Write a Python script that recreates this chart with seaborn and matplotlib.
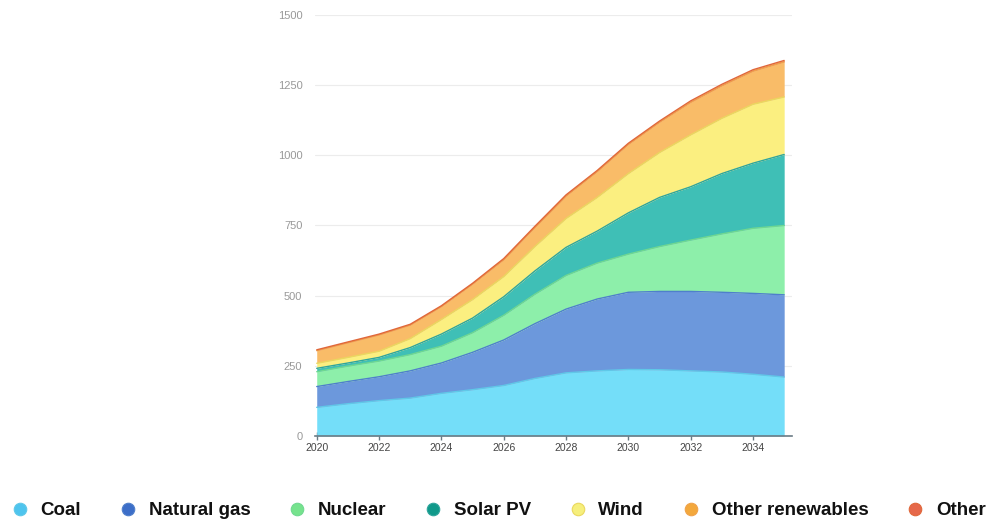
import numpy as np
import pandas as pd
import seaborn as sns
import matplotlib.pyplot as plt
from matplotlib.lines import Line2D

years = list(range(2020, 2036))
coal = [102, 115, 126, 135, 152, 165, 180, 205, 225, 232, 237, 236, 232, 228, 220, 210]
natural_gas = [74, 79, 85, 97, 108, 133, 162, 195, 227, 256, 275, 279, 283, 284, 288, 293]
nuclear = [53, 55, 56, 58, 60, 70, 88, 105, 120, 128, 136, 160, 183, 208, 232, 247]
solar_pv = [12, 11, 13, 25, 43, 52, 66, 83, 100, 114, 147, 175, 190, 215, 232, 253]
wind = [18, 20, 22, 32, 52, 66, 72, 87, 103, 120, 140, 160, 185, 197, 210, 205]
other_renewables = [45, 52, 58, 48, 46, 55, 60, 68, 80, 92, 104, 108, 116, 116, 118, 125]
other = [3, 3, 3, 3, 3, 3, 4, 4, 4, 4, 4, 4, 5, 5, 5, 5]

labels = ['Coal', 'Natural gas', 'Nuclear', 'Solar PV', 'Wind', 'Other renewables', 'Other']
fill_colors = ['#74DEF9', '#6C98DC', '#8DEFAA', '#3FBFB6', '#FBEF80', '#F9BC68', '#EC7A4E']
edge_colors = ['#5FC8E8', '#4F7FCB', '#6FD890', '#2FA59C', '#EAD85E', '#F0A24A', '#E0673A']
marker_colors = ['#4EC4EE', '#3C6EC8', '#76E38D', '#10998A', '#F6EF7C', '#F3A83C', '#E6684A']

series = [coal, natural_gas, nuclear, solar_pv, wind, other_renewables, other]

sns.set_theme(style='white')
plt.rcParams['font.family'] = ['Liberation Sans', 'DejaVu Sans']

fig = plt.figure(figsize=(9.87, 5.22), dpi=100)
ax = fig.add_axes([0.319, 0.1648, 0.4834, 0.8065])

ax.stackplot(years, *series, colors=fill_colors, linewidth=0)

# thin edge line on top of each band
tops = np.cumsum(np.array(series), axis=0)
df = pd.DataFrame({'year': np.tile(years, len(labels)),
                   'top': tops.flatten(),
                   'source': np.repeat(labels, len(years))})
sns.lineplot(data=df, x='year', y='top', hue='source', hue_order=labels,
             palette=edge_colors, linewidth=1.0, legend=False, ax=ax)

ax.set_xlim(2019.94, 2035.25)
ax.set_ylim(0, 1500)
ax.set_xticks(range(2020, 2036, 2))
ax.set_yticks([0, 250, 500, 750, 1000, 1250, 1500])
ax.set_xlabel('')
ax.set_ylabel('')

ax.grid(axis='y', color='#ECECEC', linewidth=0.8)
ax.set_axisbelow(True)
for s in ['left', 'right', 'top']:
    ax.spines[s].set_visible(False)
ax.spines['bottom'].set_color('#6B7B85')
ax.spines['bottom'].set_linewidth(1.2)
ax.spines['bottom'].set_zorder(5)

ax.tick_params(axis='x', which='major', direction='inout', length=6, width=1,
               color='#6B7B85', labelsize=7.5, labelcolor='#444444', pad=2, bottom=True)
ax.tick_params(axis='y', length=0, labelsize=8, labelcolor='#999999', pad=9)

handles = [Line2D([0], [0], marker='o', linestyle='', markersize=9,
                  markerfacecolor=c, markeredgecolor=e, markeredgewidth=0.8)
           for c, e in zip(marker_colors, edge_colors)]
leg = fig.legend(handles, labels, loc='center', bbox_to_anchor=(0.5046, 0.022), ncol=7,
                 frameon=False, columnspacing=2.0, handletextpad=0.6, handlelength=1.0,
                 borderaxespad=0, borderpad=0,
                 prop={'weight': 'bold', 'size': 13.5})
for t in leg.get_texts():
    t.set_color('#111111')

fig.savefig('out.png', dpi=100)
